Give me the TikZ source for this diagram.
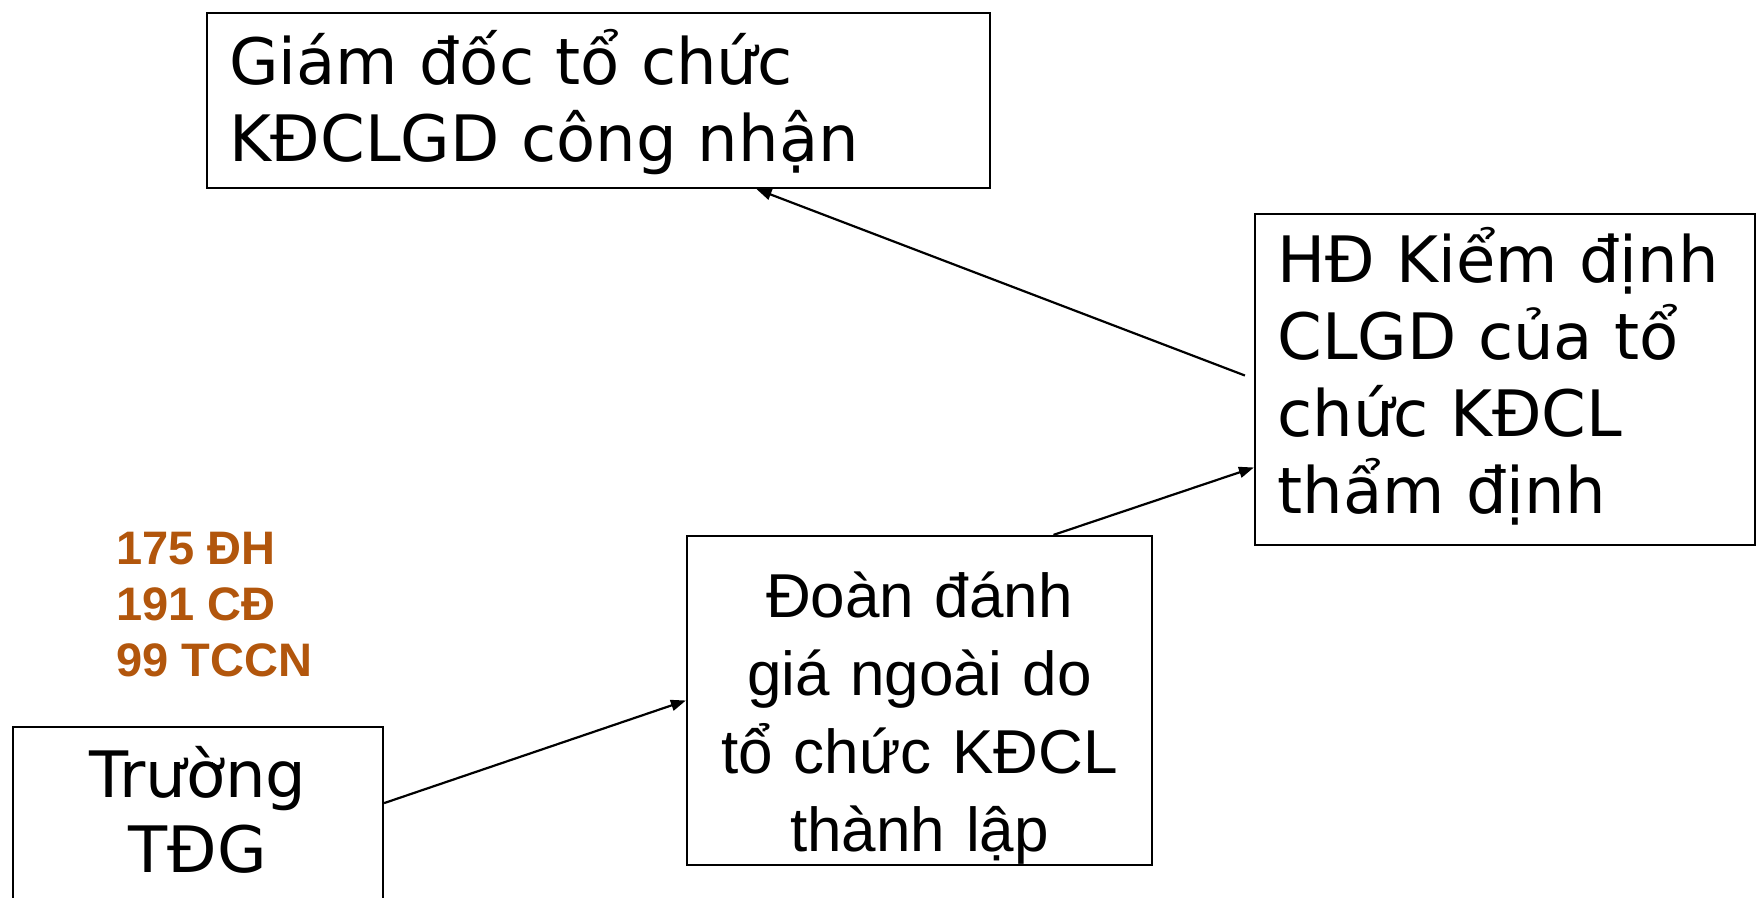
\documentclass[tikz,border=0pt]{standalone}
\usepackage{fontspec}
\setmainfont{DejaVu Sans}
\newfontfamily\arialfont{Liberation Sans}
\usepackage{tikz}
\usetikzlibrary{positioning, arrows.meta}

\definecolor{countbrown}{RGB}{178,86,12}

\begin{document}
\begin{tikzpicture}[
			x=1pt, y=-1pt,
			box/.style={draw, line width=2.2pt, inner sep=0pt, text height=0pt},
			bigtext/.style={font=\fontsize{64}{77}\selectfont},
			flow/.style={line width=2.2pt, -{Triangle[length=15pt,width=11pt]}}
			]
			\clip (0,0) rectangle (1756,897);
			\fill[white] (0,0) rectangle (1756,897);
			% boxes (text depth puts the first baseline)
			\node[box, bigtext, minimum width=783pt, minimum height=175pt, text depth=33pt,
				text width=739pt, align=left] (gd) at (598.5,100.5)
				{Giám đốc tổ chức\\KĐCLGD công nhận};
			\node[box, bigtext, minimum width=500pt, minimum height=331pt, text depth=195pt,
				text width=455pt, align=left] (hd) at (1505,379.5)
				{HĐ Kiểm định\\CLGD của tổ\\chức KĐCL\\thẩm định};
			\node[box, font=\arialfont\fontsize{62}{78}\selectfont, minimum width=465pt,
				minimum height=329pt, text depth=166pt, text width=440pt, align=center] (doan) at (919.5,700.5)
				{Đoàn đánh\\giá ngoài do\\tổ chức KĐCL\\thành lập};
			\node[box, font=\fontsize{64}{75}\selectfont, minimum width=370pt, minimum height=186pt,
				text depth=46pt, text width=340pt, align=center, anchor=north] (truong) at (198,726)
				{Trường\\TĐG};
			% numbers of schools
			\node[font=\arialfont\bfseries\fontsize{47}{56}\selectfont, text=countbrown,
				align=left, anchor=west, inner sep=0pt] (counts) at (116,605)
				{175 ĐH\\191 CĐ\\99 TCCN};
			% arrows
			\draw[flow] ([yshift=17pt]truong.east) -- (doan.west);
			\draw[flow] ([xshift=134pt]doan.north) -- ([yshift=-88pt]hd.west);
			\draw[flow] ([xshift=-9pt,yshift=4pt]hd.west) -- ([xshift=158pt]gd.south);
		\end{tikzpicture}
\end{document}
